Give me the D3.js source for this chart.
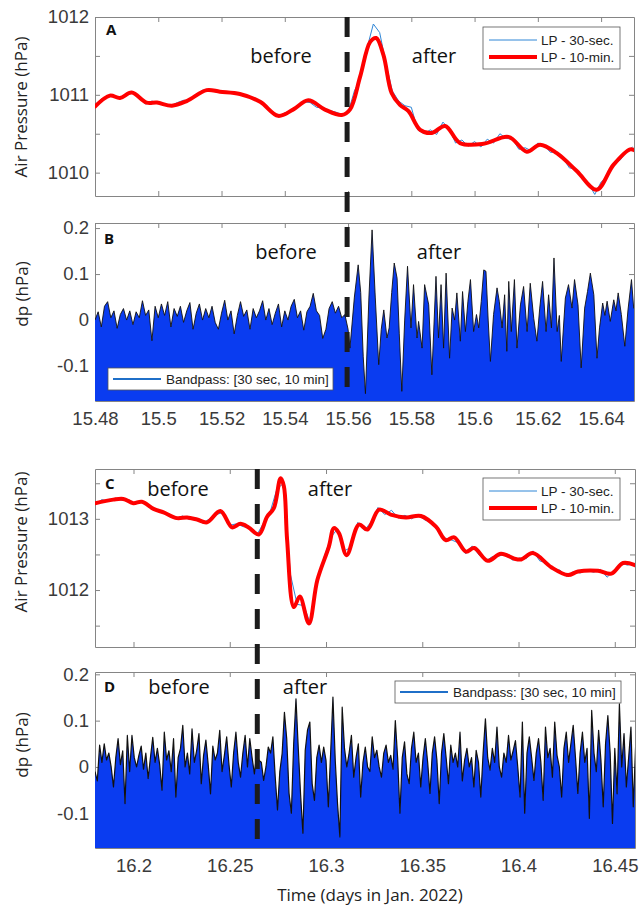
<!DOCTYPE html>
<html>
<head>
<meta charset="utf-8">
<script src="https://cdn.jsdelivr.net/npm/d3@7"></script>
<style>
  body { margin: 0; background: #fff; }
  svg { display: block; }
</style>
</head>
<body>
<script>
// ---------- data ----------
// x ticks
const abTicksX = [15.48, 15.5, 15.52, 15.54, 15.56, 15.58, 15.6, 15.62, 15.64];
const cdTicksX = [16.2, 16.25, 16.3, 16.35, 16.4, 16.45];
const aTicksY = [1010, 1010.5, 1011, 1011.5, 1012];
const cTicksY = [1011.5, 1012, 1012.5, 1013, 1013.5];
const dpTicksY = [-0.1, 0, 0.1, 0.2];

// event time (dashed line)
const eventAB = 15.5597;
const eventCD = 16.2643;

// Panel A: 10-min low pass [day, hPa]
const redA = [
  [15.4800, 1010.85], [15.4847, 1010.99], [15.4879, 1010.96], [15.4916, 1011.03], [15.4963, 1010.90],
  [15.4996, 1010.90], [15.5043, 1010.86], [15.5090, 1010.92], [15.5153, 1011.06], [15.5195, 1011.04],
  [15.5258, 1011.01], [15.5322, 1010.91], [15.5379, 1010.73], [15.5426, 1010.81], [15.5474, 1010.93],
  [15.5527, 1010.81], [15.5580, 1010.74], [15.5606, 1010.81], [15.5638, 1011.23], [15.5670, 1011.68],
  [15.5689, 1011.73], [15.5712, 1011.51], [15.5738, 1011.02], [15.5764, 1010.87], [15.5791, 1010.79],
  [15.5828, 1010.55], [15.5865, 1010.51], [15.5907, 1010.60], [15.5954, 1010.38], [15.6028, 1010.37],
  [15.6107, 1010.46], [15.6165, 1010.27], [15.6207, 1010.36], [15.6260, 1010.25], [15.6323, 1010.02],
  [15.6386, 1009.78], [15.6439, 1010.10], [15.6492, 1010.30], [15.6504, 1010.29]
];
// Panel A: 30-sec low pass, sampled every 0.002 day from 15.48
const blueAStart = 15.48, blueAStep = 0.002;
const blueA = [
  1010.86, 1010.95, 1010.97, 1010.99, 1010.95, 1011.01, 1011.04, 1010.97, 1010.88, 1010.92,
  1010.89, 1010.87, 1010.86, 1010.90, 1010.93, 1010.93, 1011.00, 1011.06, 1011.07, 1011.04,
  1011.05, 1011.02, 1011.04, 1011.00, 1010.99, 1010.94, 1010.92, 1010.86, 1010.77, 1010.72,
  1010.77, 1010.79, 1010.86, 1010.91, 1010.90, 1010.84, 1010.83, 1010.80, 1010.78, 1010.75,
  1010.77, 1011.05, 1011.22, 1011.60, 1011.91, 1011.80, 1011.40, 1011.05, 1010.92, 1010.86,
  1010.84, 1010.55, 1010.50, 1010.55, 1010.49, 1010.65, 1010.56, 1010.38, 1010.42, 1010.34,
  1010.40, 1010.33, 1010.43, 1010.38, 1010.50, 1010.44, 1010.43, 1010.30, 1010.32, 1010.28,
  1010.38, 1010.35, 1010.26, 1010.27, 1010.18, 1010.06, 1010.05, 1009.93, 1009.86, 1009.72,
  1009.88, 1009.95, 1010.12, 1010.16, 1010.27, 1010.33
];

// Panel B: bandpass, before the event (every 0.001 day from 15.48)
const bBeforeStart = 15.48, bBeforeStep = 0.001;
const bBefore = [
  0.000, 0.018, -0.015, 0.030, 0.040, 0.005, 0.020, -0.018, 0.012, 0.025,
  0.000, 0.020, -0.010, 0.018, 0.005, 0.042, 0.010, 0.022, -0.045, 0.030,
  0.005, 0.035, 0.010, 0.040, -0.015, 0.025, 0.008, 0.030, -0.005, 0.020,
  0.038, -0.020, 0.015, 0.035, 0.000, 0.025, 0.005, 0.030, -0.005, -0.020,
  0.015, 0.043, 0.000, 0.020, -0.030, 0.010, 0.040, 0.008, 0.022, -0.020,
  0.025, 0.005, 0.020, 0.042, 0.000, 0.025, -0.010, 0.015, 0.035, -0.015,
  0.020, 0.000, 0.030, 0.045, 0.005, 0.020, -0.022, 0.018, 0.030, 0.058,
  0.020, 0.010, -0.040, -0.020, 0.025, 0.040, 0.015, 0.030, 0.005, 0.012,
  -0.020
];
// Panel B: bandpass after the event [day, hPa]
const bAfter = [
  [15.5606, -0.061], [15.5620, 0.050], [15.5632, 0.120], [15.5640, 0.060], [15.5648, -0.080],
  [15.5655, -0.160], [15.5666, 0.050], [15.5676, 0.196], [15.5686, 0.050], [15.5697, -0.097],
  [15.5705, -0.020], [15.5713, 0.022], [15.5723, -0.039], [15.5730, -0.017], [15.5738, 0.060],
  [15.5746, 0.124], [15.5755, 0.091], [15.5762, -0.030], [15.5770, -0.155], [15.5779, 0.000],
  [15.5788, 0.117], [15.5799, -0.017], [15.5807, 0.077], [15.5818, -0.039], [15.5823, -0.003],
  [15.5834, -0.061], [15.5842, 0.077], [15.5855, 0.033], [15.5865, -0.119], [15.5878, 0.095],
  [15.5886, -0.039], [15.5894, 0.077], [15.5902, -0.061], [15.5910, 0.102], [15.5921, -0.083],
  [15.5929, 0.026], [15.5937, 0.000], [15.5944, 0.059], [15.5955, -0.046], [15.5962, 0.062],
  [15.5971, -0.025], [15.5979, 0.041], [15.5987, 0.088], [15.5997, -0.025], [15.6006, 0.012],
  [15.6013, -0.017], [15.6021, 0.040], [15.6029, 0.109], [15.6036, 0.106], [15.6043, 0.000],
  [15.6050, -0.090], [15.6060, 0.012], [15.6071, 0.070], [15.6078, 0.041], [15.6087, -0.017],
  [15.6095, 0.055], [15.6102, -0.068], [15.6108, 0.084], [15.6116, -0.025], [15.6126, 0.088],
  [15.6134, -0.061], [15.6145, 0.033], [15.6155, 0.073], [15.6166, -0.025], [15.6176, 0.080],
  [15.6187, 0.004], [15.6197, -0.046], [15.6206, 0.026], [15.6215, 0.084], [15.6226, -0.025],
  [15.6234, 0.055], [15.6243, -0.017], [15.6251, 0.135], [15.6261, -0.025], [15.6268, 0.010],
  [15.6274, -0.090], [15.6287, 0.048], [15.6297, 0.077], [15.6308, 0.026], [15.6316, 0.088],
  [15.6327, 0.033], [15.6337, -0.104], [15.6348, 0.026], [15.6357, 0.062], [15.6366, 0.102],
  [15.6377, 0.055], [15.6387, -0.083], [15.6395, -0.017], [15.6405, 0.037], [15.6412, 0.010],
  [15.6419, 0.041], [15.6429, -0.003], [15.6440, 0.044], [15.6447, 0.020], [15.6454, 0.059],
  [15.6464, 0.012], [15.6475, -0.057], [15.6485, 0.022], [15.6496, 0.088], [15.6503, 0.026],
  [15.6510, 0.030]
];

// Panel C: 10-min low pass [day, hPa]
const redC = [
  [16.1800, 1013.22], [16.1895, 1013.27], [16.1947, 1013.28], [16.1999, 1013.22], [16.2043, 1013.24],
  [16.2104, 1013.14], [16.2156, 1013.09], [16.2226, 1013.01], [16.2278, 1013.02], [16.2330, 1012.99],
  [16.2382, 1012.95], [16.2451, 1013.11], [16.2512, 1012.88], [16.2555, 1012.93], [16.2598, 1012.88],
  [16.2651, 1012.78], [16.2694, 1013.03], [16.2729, 1013.15], [16.2764, 1013.57], [16.2781, 1013.46],
  [16.2798, 1012.70], [16.2833, 1011.76], [16.2864, 1011.91], [16.2911, 1011.53], [16.2955, 1012.14],
  [16.3015, 1012.61], [16.3041, 1012.87], [16.3067, 1012.80], [16.3107, 1012.49], [16.3171, 1012.92],
  [16.3215, 1012.85], [16.3276, 1013.13], [16.3336, 1013.06], [16.3415, 1013.02], [16.3493, 1013.04],
  [16.3571, 1012.89], [16.3622, 1012.70], [16.3666, 1012.74], [16.3727, 1012.54], [16.3770, 1012.59],
  [16.3840, 1012.41], [16.3909, 1012.51], [16.3979, 1012.44], [16.4014, 1012.43], [16.4074, 1012.52],
  [16.4170, 1012.32], [16.4257, 1012.21], [16.4309, 1012.26], [16.4413, 1012.27], [16.4482, 1012.23],
  [16.4543, 1012.38], [16.4604, 1012.35]
];
// Panel C: 30-sec low pass, every 0.0035 day from 16.18
const blueCStart = 16.18, blueCStep = 0.0035;
const blueC = [
  1013.20, 1013.27, 1013.25, 1013.29, 1013.26, 1013.27, 1013.21, 1013.25, 1013.16, 1013.14,
  1013.08, 1013.07, 1013.00, 1013.04, 1012.99, 1013.01, 1012.94, 1013.00, 1013.06, 1013.09,
  1012.91, 1012.93, 1012.89, 1012.88, 1012.77, 1012.94, 1013.10, 1013.42, 1013.50, 1012.22,
  1011.80, 1011.78, 1011.52, 1012.16, 1012.46, 1012.74, 1012.86, 1012.55, 1012.60, 1012.95,
  1012.84, 1012.96, 1013.16, 1013.06, 1013.12, 1013.01, 1013.05, 1013.00, 1013.06, 1012.98,
  1012.95, 1012.81, 1012.73, 1012.70, 1012.66, 1012.51, 1012.62, 1012.49, 1012.41, 1012.47,
  1012.48, 1012.50, 1012.42, 1012.45, 1012.44, 1012.55, 1012.41, 1012.38, 1012.29, 1012.28,
  1012.19, 1012.26, 1012.24, 1012.28, 1012.25, 1012.29, 1012.18, 1012.27, 1012.38, 1012.35,
  1012.37
];

// Panel D: bandpass, every 0.0012 day from 16.18
const dStart = 16.18, dStep = 0.0012;
const dDp = [
  -0.010, -0.030, 0.047, 0.010, 0.050, 0.015, 0.030, 0.000, -0.043, 0.020,
  0.061, 0.005, 0.035, -0.079, 0.068, -0.010, 0.068, 0.020, 0.000, 0.025,
  0.045, -0.005, 0.030, -0.025, 0.020, 0.064, 0.010, 0.040, 0.005, -0.050,
  0.075, 0.015, 0.035, -0.010, 0.061, -0.065, 0.020, 0.040, 0.090, 0.000,
  0.030, -0.015, 0.082, 0.010, 0.035, 0.072, -0.036, 0.025, 0.058, 0.005,
  -0.058, 0.045, 0.015, 0.030, 0.079, -0.010, 0.025, 0.065, 0.005, -0.043,
  0.030, 0.075, 0.010, -0.022, 0.030, 0.068, 0.000, 0.061, 0.020, -0.015,
  0.030, 0.014, 0.010, -0.029, 0.000, 0.043, 0.030, 0.065, -0.020, -0.093,
  -0.010, 0.029, 0.118, 0.060, -0.057, -0.100, 0.050, 0.147, 0.040, -0.060,
  -0.143, 0.036, 0.080, 0.097, -0.036, -0.072, 0.020, 0.047, 0.010, 0.043,
  0.014, -0.086, 0.030, 0.151, 0.014, -0.080, -0.151, 0.129, 0.040, 0.000,
  0.030, 0.068, -0.022, 0.020, 0.050, -0.065, 0.010, 0.043, 0.000, -0.010,
  0.065, 0.020, 0.036, 0.000, -0.022, 0.030, 0.047, 0.010, 0.025, -0.005,
  0.100, 0.020, -0.100, 0.020, 0.054, -0.015, -0.036, 0.040, 0.075, 0.010,
  0.030, -0.043, 0.020, 0.061, 0.010, -0.057, 0.030, 0.065, 0.015, -0.079,
  0.030, 0.072, 0.020, -0.036, 0.047, 0.010, 0.030, 0.000, 0.075, -0.030,
  0.015, 0.040, 0.000, 0.020, -0.043, 0.036, 0.010, -0.065, 0.030, 0.104,
  0.020, -0.007, 0.040, 0.010, 0.086, 0.000, -0.022, 0.030, 0.010, 0.068,
  0.015, 0.035, 0.057, 0.000, -0.065, 0.097, -0.100, 0.030, 0.065, 0.020,
  -0.029, 0.030, 0.061, 0.010, -0.072, 0.086, 0.020, 0.040, -0.022, 0.097,
  0.025, 0.000, -0.065, 0.040, 0.075, 0.010, 0.050, 0.090, 0.020, -0.057,
  0.030, 0.075, 0.010, 0.040, -0.111, 0.122, 0.030, -0.010, 0.079, 0.015,
  -0.086, 0.050, 0.111, 0.030, -0.122, 0.040, -0.058, 0.136, 0.000, 0.072,
  -0.043, 0.020, 0.086, -0.086, 0.043
];

// ---------- drawing ----------
const width = 644, height = 909;
const left = 95;
const tickFont = "'Liberation Sans', Arial, Helvetica, sans-serif";
const textFont = "'Open Sans', 'DejaVu Sans', sans-serif";
const fillBlue = "#0a3cf0";
const lineBlue = "#2f86d6";

const svg = d3.select("body").append("svg")
  .attr("width", width).attr("height", height)
  .attr("viewBox", `0 0 ${width} ${height}`);

const xAB = d3.scaleLinear().domain([15.48, 15.6504]).range([left, 634]);
const xCD = d3.scaleLinear().domain([16.18, 16.4605]).range([left, 635]);

const yA = d3.scaleLinear().domain([1009.70, 1012.0]).range([196, 17]);
const yB = d3.scaleLinear().domain([-0.176, 0.211]).range([401, 223]);
const yC = d3.scaleLinear().domain([1011.2, 1013.7]).range([647, 469]);
const yD = d3.scaleLinear().domain([-0.175, 0.205]).range([848, 672]);

const fmtX = d => String(+d.toFixed(2));
const fmtP = d => Number.isInteger(d) ? String(d) : "";
const fmtDp = d => d === 0 ? "0" : String(+d.toFixed(1));

function axesBox(id, x, y, xTicks, yTicks, yFmt, showX) {
  const g = svg.append("g").attr("class", "axes-" + id);
  const [x0, x1] = x.range();
  const [y0, y1] = y.range();

  svg.append("clipPath").attr("id", "clip-" + id)
    .append("rect").attr("x", x0).attr("y", y1).attr("width", x1 - x0).attr("height", y0 - y1);

  g.append("g").attr("transform", `translate(0,${y0})`)
    .call(d3.axisBottom(x).tickValues(xTicks).tickSize(-5).tickSizeOuter(0)
      .tickPadding(showX ? 11 : 0).tickFormat(showX ? fmtX : () => ""));
  g.append("g").attr("transform", `translate(0,${y1})`)
    .call(d3.axisTop(x).tickValues(xTicks).tickSize(-5).tickSizeOuter(0).tickFormat(() => ""));
  g.append("g").attr("transform", `translate(${x0},0)`)
    .call(d3.axisLeft(y).tickValues(yTicks).tickSize(-5).tickSizeOuter(0).tickPadding(6).tickFormat(yFmt));
  g.append("g").attr("transform", `translate(${x1},0)`)
    .call(d3.axisRight(y).tickValues(yTicks).tickSize(-5).tickSizeOuter(0).tickFormat(() => ""));

  g.selectAll(".domain").attr("stroke", "#858585").attr("stroke-width", 1);
  g.selectAll(".tick line").attr("stroke", "#858585");
  g.selectAll("text").attr("font-family", tickFont).attr("font-size", "18.5px").attr("fill", "#3a3a3a");
  return g;
}

function bandpass(id, x, y, pts, lw) {
  const area = d3.area().x(d => x(d[0])).y0(y.range()[0]).y1(d => y(d[1]));
  const line = d3.line().x(d => x(d[0])).y(d => y(d[1]));
  const g = svg.append("g").attr("clip-path", `url(#clip-${id})`);
  g.append("path").datum(pts).attr("d", area).attr("fill", fillBlue);
  g.append("path").datum(pts).attr("d", line)
    .attr("fill", "none").attr("stroke", "#111").attr("stroke-width", lw).attr("stroke-linejoin", "round");
}

function lowpass(id, x, y, bluePts, redPts) {
  const g = svg.append("g").attr("clip-path", `url(#clip-${id})`);
  g.append("path").datum(bluePts)
    .attr("d", d3.line().x(d => x(d[0])).y(d => y(d[1])))
    .attr("fill", "none").attr("stroke", lineBlue).attr("stroke-width", 1);
  g.append("path").datum(redPts)
    .attr("d", d3.line().x(d => x(d[0])).y(d => y(d[1])).curve(d3.curveCatmullRom.alpha(0.5)))
    .attr("fill", "none").attr("stroke", "#ff0000").attr("stroke-width", 4)
    .attr("stroke-linejoin", "round").attr("stroke-linecap", "round");
}

function lpLegend(x, yTop) {
  const g = svg.append("g");
  g.append("rect").attr("x", x).attr("y", yTop).attr("width", 137).attr("height", 42)
    .attr("fill", "#fff").attr("stroke", "#555").attr("stroke-width", 0.8);
  g.append("line").attr("x1", x + 6).attr("x2", x + 54).attr("y1", yTop + 13).attr("y2", yTop + 13)
    .attr("stroke", lineBlue).attr("stroke-width", 1);
  g.append("line").attr("x1", x + 6).attr("x2", x + 54).attr("y1", yTop + 30).attr("y2", yTop + 30)
    .attr("stroke", "#ff0000").attr("stroke-width", 4);
  g.append("text").attr("x", x + 58).attr("y", yTop + 17.5).text("LP - 30-sec.");
  g.append("text").attr("x", x + 58).attr("y", yTop + 34.5).text("LP - 10-min.");
  g.selectAll("text").attr("font-family", tickFont).attr("font-size", "13.5px").attr("fill", "#222");
}

function bpLegend(x, yTop, w) {
  const g = svg.append("g");
  g.append("rect").attr("x", x).attr("y", yTop).attr("width", w).attr("height", 22)
    .attr("fill", "#fff").attr("stroke", "#555").attr("stroke-width", 0.8);
  g.append("line").attr("x1", x + 5).attr("x2", x + 53).attr("y1", yTop + 11).attr("y2", yTop + 11)
    .attr("stroke", "#1f6fc8").attr("stroke-width", 2);
  g.append("text").attr("x", x + 58).attr("y", yTop + 16)
    .attr("font-family", tickFont).attr("font-size", "13.5px").attr("fill", "#222")
    .text("Bandpass: [30 sec, 10 min]");
}

function label(txt, x, y, opts = {}) {
  return svg.append("text").attr("x", x).attr("y", y)
    .attr("text-anchor", opts.anchor || "middle")
    .attr("font-family", textFont)
    .attr("font-size", opts.size || "20px")
    .attr("font-weight", opts.weight || "normal")
    .attr("fill", opts.fill || "#111")
    .text(txt);
}

function yTitle(txt, x, yc) {
  svg.append("text").attr("transform", `translate(${x},${yc}) rotate(-90)`)
    .attr("text-anchor", "middle").attr("font-family", textFont)
    .attr("font-size", "17px").attr("fill", "#222").text(txt);
}

// series as [day, value] pairs
const blueAPts = blueA.map((v, i) => [blueAStart + i * blueAStep, v]);
const blueCPts = blueC.map((v, i) => [blueCStart + i * blueCStep, v]);
const bPts = bBefore.map((v, i) => [bBeforeStart + i * bBeforeStep, v]).concat(bAfter);
const dPts = dDp.map((v, i) => [dStart + i * dStep, v]);

// panels
axesBox("A", xAB, yA, abTicksX, aTicksY, fmtP, false);
lowpass("A", xAB, yA, blueAPts, redA);
axesBox("B", xAB, yB, abTicksX, dpTicksY, fmtDp, true);
bandpass("B", xAB, yB, bPts, 0.9);
axesBox("C", xCD, yC, cdTicksX, cTicksY, fmtP, false);
lowpass("C", xCD, yC, blueCPts, redC);
axesBox("D", xCD, yD, cdTicksX, dpTicksY, fmtDp, true);
bandpass("D", xCD, yD, dPts, 1.2);

// legends
lpLegend(483, 27);
lpLegend(483, 478);
bpLegend(108, 368, 225);
bpLegend(395, 681, 226);

// panel letters
label("A", 106, 35, { anchor: "start", size: "15px", weight: "bold" });
label("B", 104, 244, { anchor: "start", size: "15px", weight: "bold" });
label("C", 105, 489, { anchor: "start", size: "15px", weight: "bold" });
label("D", 104, 692, { anchor: "start", size: "15px", weight: "bold" });

// before / after
label("before", 281, 63);
label("after", 434, 63);
label("before", 286, 259);
label("after", 439, 259);
label("before", 178, 496);
label("after", 330, 496);
label("before", 179, 694);
label("after", 305, 694);

// axis titles
yTitle("Air Pressure (hPa)", 27, 107);
yTitle("dp (hPa)", 28, 294);
yTitle("Air Pressure (hPa)", 27, 542);
yTitle("dp (hPa)", 28, 745);
label("Time (days in Jan. 2022)", 370, 901, { size: "17px", fill: "#222" });

// dashed event lines through both panels
svg.append("line")
  .attr("x1", xAB(eventAB)).attr("x2", xAB(eventAB))
  .attr("y1", yA.range()[1]).attr("y2", yB.range()[0])
  .attr("stroke", "#1c1c1c").attr("stroke-width", 5).attr("stroke-dasharray", "20,15");
svg.append("line")
  .attr("x1", xCD(eventCD)).attr("x2", xCD(eventCD))
  .attr("y1", yC.range()[1]).attr("y2", yD.range()[0])
  .attr("stroke", "#1c1c1c").attr("stroke-width", 5).attr("stroke-dasharray", "20,15");
</script>
</body>
</html>
